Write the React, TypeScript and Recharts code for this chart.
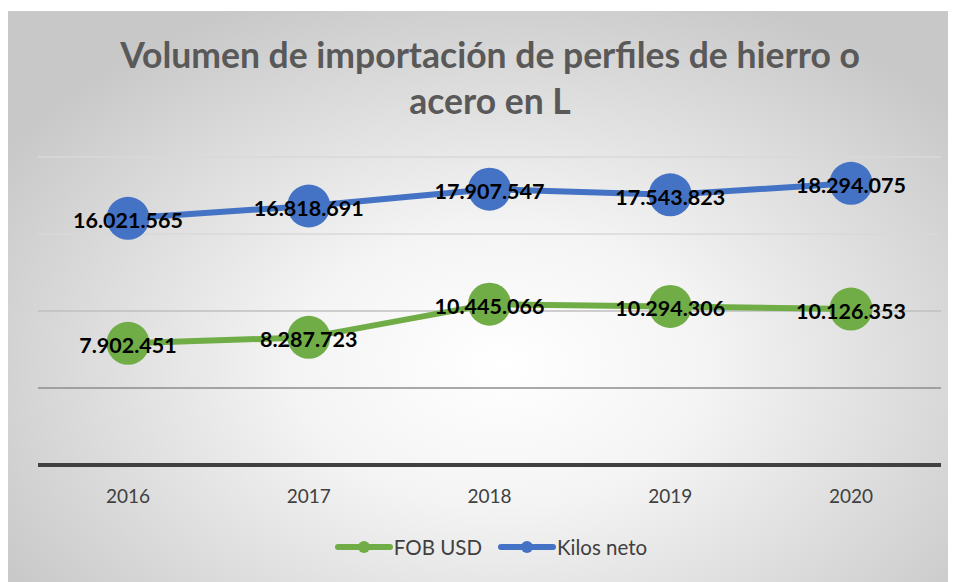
import { LineChart, Line, XAxis, YAxis, ReferenceLine, LabelList } from 'recharts';

const years = ['2016', '2017', '2018', '2019', '2020'];
const fobUsd = [7902451, 8287723, 10445066, 10294306, 10126353];
const kilosNeto = [16021565, 16818691, 17907547, 17543823, 18294075];
const gridValues = [5000000, 10000000, 15000000, 20000000];

const gridColors = ['#8c8c8c', '#bfbfbf', '#d9d9d9', '#d9d9d9'];
const GREEN = '#70AD47';
const BLUE = '#4472C4';
const FONT = 'Lato, "Open Sans", sans-serif';

const data = years.map((year, i) => ({
  year,
  fob: fobUsd[i],
  kilos: kilosNeto[i],
}));

const fmt = (v: number) => String(v).replace(/\B(?=(\d{3})+(?!\d))/g, '.');

const ValueLabel = (props: any) => {
  const { x, y, value } = props;
  return (
    <text
      x={x}
      y={y + 2}
      textAnchor="middle"
      dominantBaseline="central"
      fontFamily={FONT}
      fontWeight={700}
      fontSize={21.5}
      fill="#000"
    >
      {fmt(value)}
    </text>
  );
};

const LegendItem = ({ color, label }: { color: string; label: string }) => (
  <span style={{ display: 'inline-flex', alignItems: 'center', margin: '0 8px' }}>
    <svg width={58} height={14} style={{ marginRight: 1 }}>
      <line x1={3} y1={7} x2={55} y2={7} stroke={color} strokeWidth={6} strokeLinecap="round" />
      <circle cx={29} cy={7} r={6} fill={color} />
    </svg>
    {label}
  </span>
);

const App = () => {
  return (
    <div
      style={{
        position: 'relative',
        marginTop: 3,
        width: 948,
        height: 571,
        background:
          'radial-gradient(ellipse 62% 70% at 52% 62%, #ffffff 0%, #f4f4f4 35%, #c8c8c8 100%)',
        fontFamily: FONT,
      }}
    >
      <div
        style={{
          position: 'absolute',
          top: 21,
          left: 8,
          width: 948,
          textAlign: 'center',
          fontSize: 35.5,
          fontWeight: 700,
          lineHeight: '46px',
          color: '#595959',
        }}
      >
        Volumen de importación de perfiles de hierro o
        <br />
        acero en L
      </div>
      <LineChart
        width={948}
        height={571}
        data={data}
        margin={{ top: 146, right: 15, left: 30, bottom: 77 }}
      >
        {gridValues.map((v, i) => (
          <ReferenceLine key={v} y={v} stroke={gridColors[i]} strokeWidth={1.5} />
        ))}
        <XAxis
          dataKey="year"
          height={40}
          padding={{ left: 90, right: 90 }}
          axisLine={{ stroke: '#404040', strokeWidth: 4 }}
          tickLine={false}
          tickSize={0}
          tickMargin={25}
          tick={{ fill: '#404040', fontSize: 19, fontFamily: FONT }}
        />
        <YAxis hide domain={[0, 20000000]} ticks={gridValues} />
        <Line
          dataKey="fob"
          name="FOB USD"
          stroke={GREEN}
          strokeWidth={6}
          dot={{ r: 21.5, fill: GREEN, stroke: GREEN, strokeWidth: 0 }}
          isAnimationActive={false}
        >
          <LabelList dataKey="fob" content={ValueLabel} />
        </Line>
        <Line
          dataKey="kilos"
          name="Kilos neto"
          stroke={BLUE}
          strokeWidth={6}
          dot={{ r: 21.5, fill: BLUE, stroke: BLUE, strokeWidth: 0 }}
          isAnimationActive={false}
        >
          <LabelList dataKey="kilos" content={ValueLabel} />
        </Line>
      </LineChart>
      <div
        style={{
          position: 'absolute',
          top: 524,
          left: 0,
          width: 966,
          display: 'flex',
          justifyContent: 'center',
          fontSize: 20.5,
          color: '#404040',
        }}
      >
        <LegendItem color={GREEN} label="FOB USD" />
        <LegendItem color={BLUE} label="Kilos neto" />
      </div>
    </div>
  );
};

export default App;
